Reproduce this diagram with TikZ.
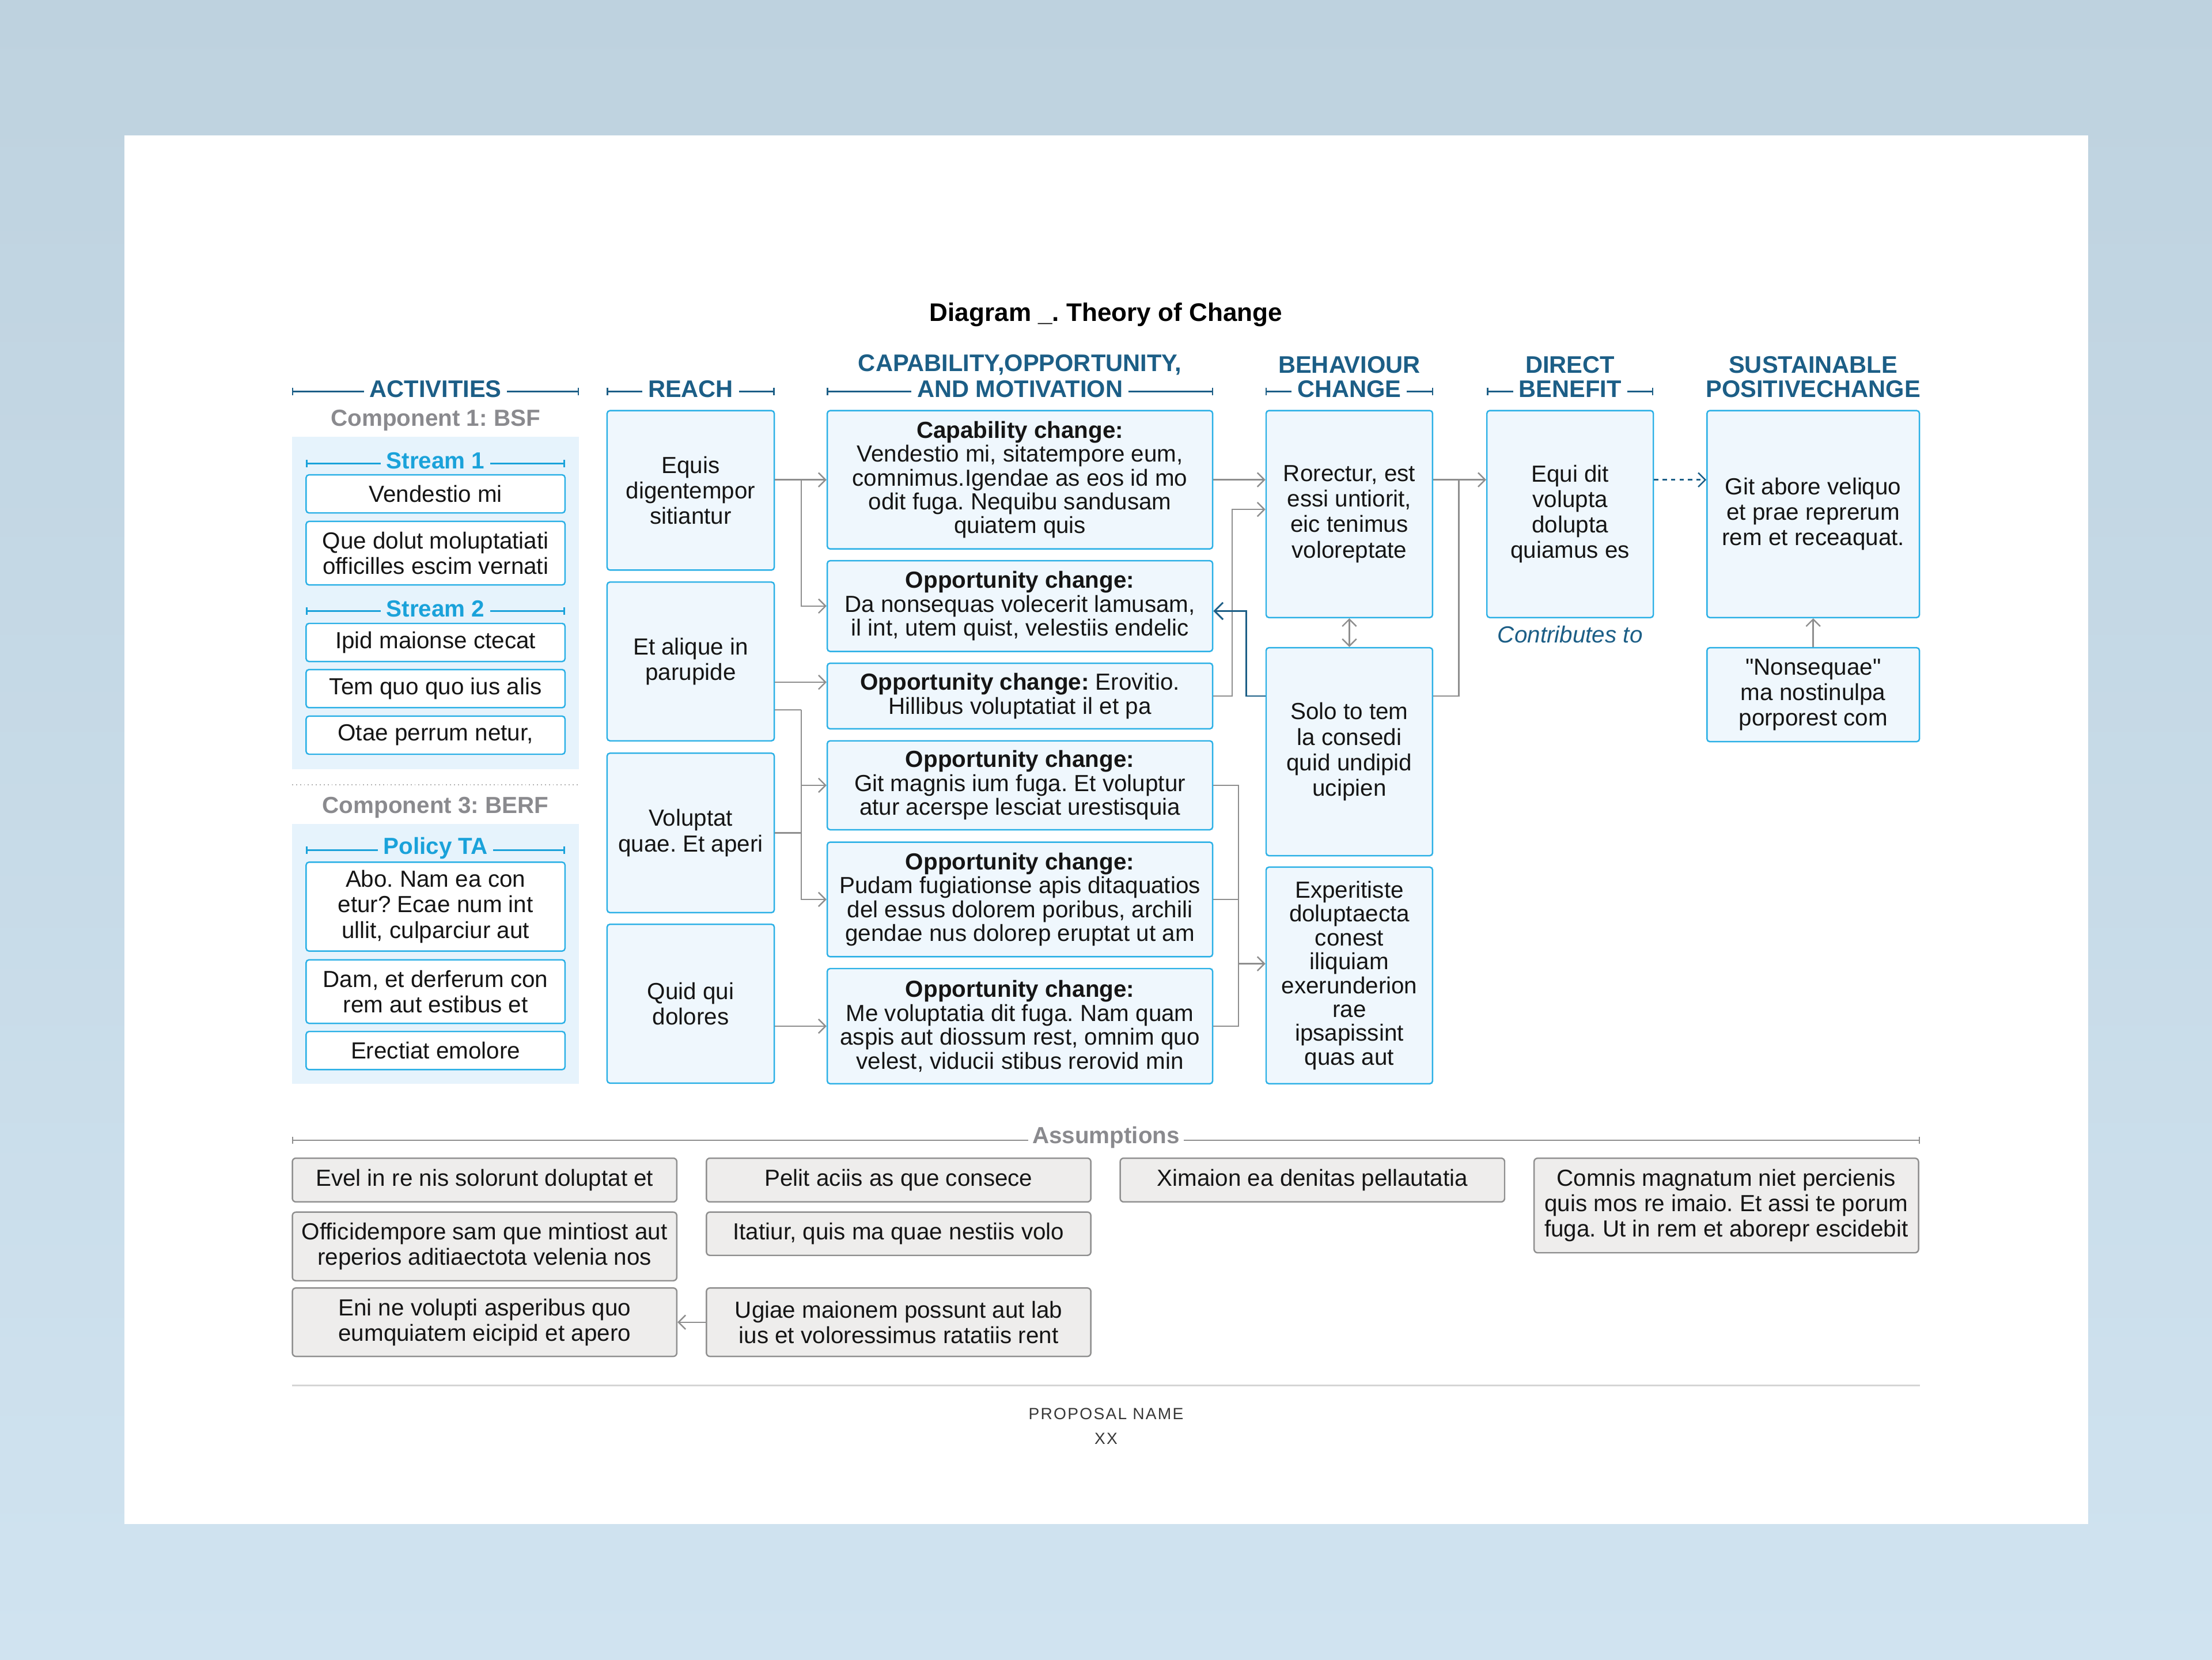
\documentclass[tikz,border=0pt]{standalone}
\usepackage{fontspec}
\setmainfont{Liberation Sans}[Ligatures=TeXOff]
\usetikzlibrary{arrows.meta,calc}
\definecolor{hdrblue}{HTML}{1C5E86}
\definecolor{cyanline}{HTML}{2BB0E6}
\definecolor{streamcyan}{HTML}{1AA2DA}
\definecolor{boxfill}{HTML}{EFF7FD}
\definecolor{panelfill}{HTML}{E6F3FC}
\definecolor{conngray}{HTML}{8E8E8E}
\definecolor{compgray}{HTML}{8A8A8E}
\definecolor{assumfill}{HTML}{EEEDEC}
\definecolor{assumline}{HTML}{8F8F8F}
\definecolor{bgtop}{HTML}{BED2DF}
\definecolor{bgbot}{HTML}{D0E3F0}
\definecolor{txt}{HTML}{151515}
\definecolor{footline}{HTML}{D5D5D5}
\frenchspacing
\newcommand\bodyfs{\fontsize{16.5}{18}\selectfont}
\newcommand\capfs{\fontsize{16.5}{16.9}\selectfont}
\newcommand\hdrfs{\fontsize{17}{17}\selectfont\bfseries}
\newcommand\titlefs{\fontsize{18}{20}\selectfont\bfseries}
\newcommand\compfs{\fontsize{16.5}{17}\selectfont\bfseries}
\newcommand\footfs{\fontsize{11.5}{13}\selectfont\addfontfeature{LetterSpace=8}}
\tikzset{
  bluebox/.style={draw=cyanline, fill=boxfill, line width=1pt, rounded corners=2pt, inner sep=0pt, align=center, font=\bodyfs, text=txt},
  capbox/.style={bluebox, font=\capfs, minimum width=273.2},
  actbox/.style={bluebox, fill=white, minimum width=183.5},
  assumbox/.style={draw=assumline, fill=assumfill, line width=1pt, rounded corners=2.5pt, inner sep=0pt, align=center, font=\bodyfs, text=txt, minimum width=272.5},
  hdr/.style={font=\hdrfs, text=hdrblue, inner sep=0pt, inner xsep=4pt, fill=white},
  streamhdr/.style={font=\compfs, text=streamcyan, fill=panelfill, inner sep=0pt, inner xsep=4pt},
  comp/.style={font=\compfs, text=compgray, inner sep=0pt},
  cline/.style={draw=conngray, line width=1pt},
  conn/.style={cline, -{Straight Barb[length=5pt,width=10pt]}},
  conntwo/.style={cline, {Straight Barb[length=5pt,width=10pt]}-{Straight Barb[length=5pt,width=10pt]}},
  blueconn/.style={draw=hdrblue, line width=1.2pt, -{Straight Barb[length=6pt,width=12pt]}},
  dashconn/.style={draw=hdrblue, line width=1pt, dash pattern=on 3pt off 3pt, -{Straight Barb[length=5pt,width=10pt]}},
  hline/.style={draw=hdrblue, line width=1pt, {Bar[width=5pt]}-{Bar[width=5pt]}},
  sline/.style={draw=streamcyan, line width=1pt, {Bar[width=5pt]}-{Bar[width=5pt]}},
  gline/.style={draw=conngray, line width=1pt, {Bar[width=5pt]}-{Bar[width=5pt]}},
}
\begin{document}
\begin{tikzpicture}[x=1pt,y=-1pt]
\useasboundingbox (0,0) rectangle (1568,1176);
\shade[top color=bgtop, bottom color=bgbot] (0,0) rectangle (1568,1176);
\fill[white] (88,96) rectangle (1480,1080);

% title
\node[font=\titlefs, text=black] (title) at (784,223) {Diagram \_. Theory of Change};

% header lines
\draw[hline] (207,277.5) -- (410.5,277.5);
\draw[hline] (430,277.5) -- (549,277.5);
\draw[hline] (586,277.5) -- (860,277.5);
\draw[hline] (897,277.5) -- (1016,277.5);
\draw[hline] (1054,277.5) -- (1172,277.5);

\node[hdr] (hAct) at (308.75,275.5) {ACTIVITIES};
\node[hdr] (hReach) at (489.6,275.5) {REACH};
\node[hdr] (hCapA) at (723,258.5) {CAPABILITY,OPPORTUNITY,};
\node[hdr] (hCapB) at (723,275.5) {AND MOTIVATION};
\node[hdr] (hBehA) at (956.5,258.5) {BEHAVIOUR};
\node[hdr] (hBehB) at (956.5,275.5) {CHANGE};
\node[hdr] (hDirA) at (1113,258.5) {DIRECT};
\node[hdr] (hDirB) at (1113,275.5) {BENEFIT};
\node[hdr] (hSusA) at (1285.3,258.5) {SUSTAINABLE};
\node[hdr] (hSusB) at (1285.3,275.5) {POSITIVECHANGE};

% activities
\node[comp] (comp1) at (308.75,298) {Component 1: BSF};
\fill[panelfill] (207,309.5) rectangle (410.5,545);
\draw[conngray!70, line width=0.8pt, dotted] (207,556) -- (410.5,556);
\node[comp] (comp3) at (308.75,572.5) {Component 3: BERF};
\fill[panelfill] (207,584) rectangle (410.5,768);

\draw[sline] (217,328.5) -- (400.5,328.5);
\node[streamhdr] (st1) at (308.75,326.5) {Stream 1};
\draw[sline] (217,433) -- (400.5,433);
\node[streamhdr] (st2) at (308.75,431.5) {Stream 2};
\draw[sline] (217,602.5) -- (400.5,602.5);
\node[streamhdr] (st3) at (308.75,601) {Policy TA};

\node[actbox, minimum height=27] (act1) at (308.75,350) {Vendestio mi};
\node[actbox, minimum height=45] (act2) at (308.75,392) {Que dolut moluptatiati\\officilles escim vernati};
\node[actbox, minimum height=27] (act3) at (308.75,455.3) {Ipid maionse ctecat};
\node[actbox, minimum height=27] (act4) at (308.75,488) {Tem quo quo ius alis};
\node[actbox, minimum height=27] (act5) at (308.75,521) {Otae perrum netur,};
\node[actbox, minimum height=63] (act6) at (308.75,642.5) {Abo. Nam ea con\\etur? Ecae num int\\ullit, culparciur aut};
\node[actbox, minimum height=45] (act7) at (308.75,702.7) {Dam, et derferum con\\rem aut estibus et};
\node[actbox, minimum height=27] (act8) at (308.75,744.5) {Erectiat emolore};

% reach
\node[bluebox, minimum width=118.5, minimum height=113] (R1) at (489.6,347.5) {Equis\\digentempor\\sitiantur};
\node[bluebox, minimum width=118.5, minimum height=112.5] (R2) at (489.6,468.75) {Et alique in\\parupide};
\node[bluebox, minimum width=118.5, minimum height=113] (R3) at (489.6,590.25) {Voluptat\\quae. Et aperi};
\node[bluebox, minimum width=118.5, minimum height=112.6] (R4) at (489.6,711.3) {Quid qui\\dolores};

% capability
\node[capbox, minimum height=98] (C1) at (723,340) {\textbf{Capability change:}\\Vendestio mi, sitatempore eum,\\comnimus.Igendae as eos id mo\\odit fuga. Nequibu sandusam\\quiatem quis};
\node[capbox, minimum height=64.3] (C2) at (723,429.5) {\textbf{Opportunity change:}\\Da nonsequas volecerit lamusam,\\il int, utem quist, velestiis endelic};
\node[capbox, minimum height=46.5] (C3) at (723,493.25) {\textbf{Opportunity change:} Erovitio.\\Hillibus voluptatiat il et pa};
\node[capbox, minimum height=63] (C4) at (723,556.5) {\textbf{Opportunity change:}\\Git magnis ium fuga. Et voluptur\\atur acerspe lesciat urestisquia};
\node[capbox, minimum height=81.2] (C5) at (723,637.4) {\textbf{Opportunity change:}\\Pudam fugiationse apis ditaquatios\\del essus dolorem poribus, archili\\gendae nus dolorep eruptat ut am};
\node[capbox, minimum height=81.6] (C6) at (723,727.2) {\textbf{Opportunity change:}\\Me voluptatia dit fuga. Nam quam\\aspis aut diossum rest, omnim quo\\velest, viducii stibus rerovid min};

% behaviour
\node[bluebox, minimum width=118, minimum height=146.7] (B1) at (956.5,364.3) {Rorectur, est\\essi untiorit,\\eic tenimus\\voloreptate};
\node[bluebox, minimum width=118, minimum height=147.4] (B2) at (956.5,532.7) {Solo to tem\\la consedi\\quid undipid\\ucipien};
\node[bluebox, font=\capfs, minimum width=118, minimum height=153.5] (B3) at (956.5,691.25) {Experitiste\\doluptaecta\\conest\\iliquiam\\exerunderion\\rae\\ipsapissint\\quas aut};

% direct benefit
\node[bluebox, minimum width=118, minimum height=146.7] (D1) at (1113,364.3) {Equi dit\\volupta\\dolupta\\quiamus es};
\node[font=\bodyfs\itshape, text=hdrblue, inner sep=0pt] (contrib) at (1113,449.5) {Contributes to};

% sustainable
\node[bluebox, minimum width=150.6, minimum height=146.7] (S1) at (1285.3,364.3) {Git abore veliquo\\et prae reprerum\\rem et receaquat.};
\node[bluebox, minimum width=150.6, minimum height=66.6] (S2) at (1285.3,492.3) {"Nonsequae"\\ma nostinulpa\\porporest com};

% junction coordinates
\coordinate (j1) at (568,340);
\coordinate (yRa) at (0,483.5);
\coordinate (j2) at (568,503);
\coordinate (j3) at (873.5,361);
\coordinate (j4) at (883.5,433);
\coordinate (j5) at (878,727.2);
\coordinate (yB3) at (0,683);
\coordinate (j6) at (1034,340);

% connectors reach -> capability
\draw[conn] (R1.east |- C1.west) -- (C1.west);
\draw[conn] (j1) |- (C2.west);
\draw[conn] (R2.east |- yRa) -- (C3.west |- yRa);
\draw[cline] (R2.east |- j2) -- (j2);
\draw[conn] (j2) |- (C5.west);
\draw[conn] (j2 |- C4.west) -- (C4.west);
\draw[cline] (R3.east) -- (R3.east -| j2);
\draw[conn] (R4.east |- C6.west) -- (C6.west);

% capability -> behaviour
\draw[conn] (C1.east) -- (C1.east -| B1.west);
\draw[conn] (C3.east) -| (j3) -- (B1.west |- j3);
\draw[blueconn] (B2.west |- C3.east) -| (j4) -- (C2.east |- j4);
\draw[cline] (C4.east) -| (j5) -- (C6.east);
\draw[cline] (C5.east) -- (C5.east -| j5);
\draw[conn] (j5 |- yB3) -- (B3.west |- yB3);

% behaviour -> benefit -> sustainable
\draw[conntwo] (B1.south) -- (B2.north);
\draw[conn] (B1.east |- j6) -- (D1.west |- j6);
\draw[cline] (B2.east |- C3.east) -| (j6);
\draw[dashconn] (D1.east |- j6) -- (S1.west |- j6);
\draw[conn] (S2.north) -- (S1.south);

% assumptions
\draw[gline] (207,808) -- (1361,808);
\node[comp, fill=white, inner xsep=3pt] (assum) at (784,806) {Assumptions};
\node[assumbox, minimum height=31] (A1) at (343.5,836.25) {Evel in re nis solorunt doluptat et};
\node[assumbox, minimum height=48.6] (A2) at (343.5,883.3) {Officidempore sam que mintiost aut\\reperios aditiaectota velenia nos};
\node[assumbox, minimum height=48.5] (A3) at (343.5,937) {Eni ne volupti asperibus quo\\eumquiatem eicipid et apero};
\node[assumbox, minimum height=31] (A4) at (637,836.25) {Pelit aciis as que consece};
\node[assumbox, minimum height=30.7] (A5) at (637,874.3) {Itatiur, quis ma quae nestiis volo};
\node[assumbox, minimum height=48.5] (A6) at (637,937) {Ugiae maionem possunt aut lab\\ius et voloressimus ratatiis rent};
\node[assumbox, minimum height=31] (A7) at (930.3,836.25) {Ximaion ea denitas pellautatia};
\node[assumbox, minimum height=67] (A8) at (1223.7,854.3) {Comnis magnatum niet percienis\\quis mos re imaio. Et assi te porum\\fuga. Ut in rem et aborepr escidebit};
\draw[conn] (A6.west) -- (A3.east);

% footer
\draw[draw=footline, line width=1.2pt] (207,982) -- (1361,982);
\node[font=\footfs, text=txt!85, inner sep=0pt] (prop) at (784,1002) {PROPOSAL NAME};
\node[font=\footfs, text=txt!85, inner sep=0pt] (xx) at (784,1019.5) {XX};
\end{tikzpicture}
\end{document}
